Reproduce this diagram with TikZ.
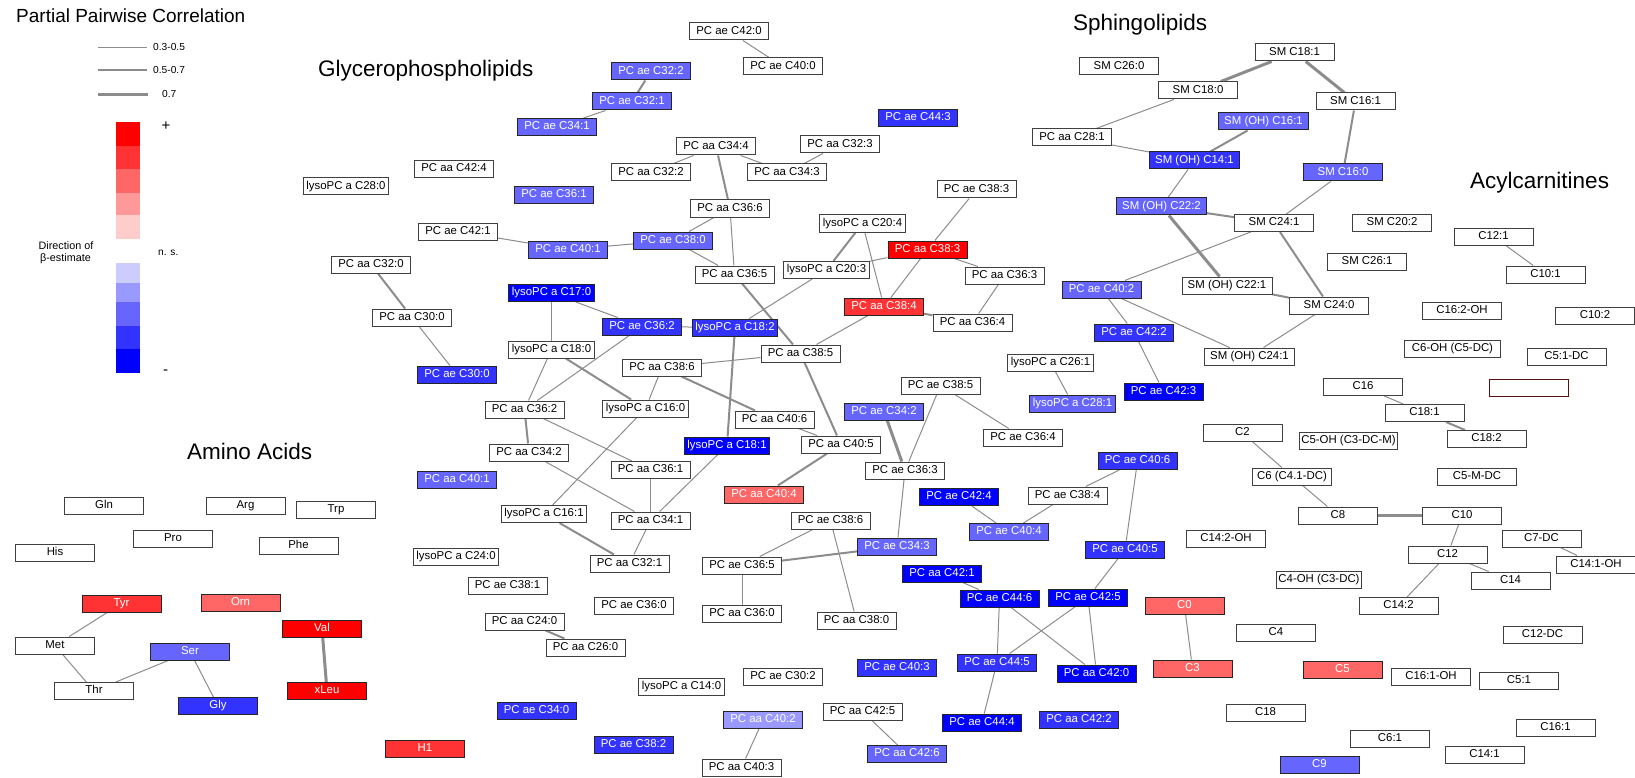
\documentclass[tikz,border=0pt]{standalone}
\usepackage{fontspec}
\setmainfont{Liberation Sans}
\usetikzlibrary{backgrounds}

\definecolor{BlueA}{HTML}{0000FF}
\definecolor{BlueB}{HTML}{3333FF}
\definecolor{BlueC}{HTML}{6666FF}
\definecolor{BlueD}{HTML}{9999FF}
\definecolor{BlueE}{HTML}{CCCCFF}
\definecolor{RedA}{HTML}{FF0000}
\definecolor{RedB}{HTML}{FF3333}
\definecolor{RedC}{HTML}{FF6666}
\definecolor{RedD}{HTML}{FF9999}
\definecolor{RedE}{HTML}{FFCCCC}
\definecolor{EdgeGray}{HTML}{8C8C8C}
\definecolor{DarkRed}{HTML}{5A1010}

\begin{document}
\begin{tikzpicture}[x=1pt, y=-1pt]
		\tikzstyle{Box}		= [rectangle, draw=black!75, line width=1pt, fill=white, text=black, minimum width=79pt, minimum height=17pt, inner xsep=3pt, inner ysep=0pt, text height=8.2pt, text depth=2.4pt, font=\fontsize{11.4}{12}\selectfont]
		\tikzstyle{Wide}	= [minimum width=90pt]
		\tikzstyle{Wider}	= [minimum width=96pt]
		\tikzstyle{B1}		= [fill=BlueA, text=white, draw=black!85]
		\tikzstyle{B2}		= [fill=BlueB, text=white, draw=black!85]
		\tikzstyle{B3}		= [fill=BlueC, text=white, draw=black!85]
		\tikzstyle{B4}		= [fill=BlueD, text=white, draw=black!85]
		\tikzstyle{R1}		= [fill=RedA, text=white, draw=black!85]
		\tikzstyle{R2}		= [fill=RedB, text=white, draw=black!85]
		\tikzstyle{R3}		= [fill=RedC, text=white, draw=black!85]
		\tikzstyle{Weak}	= [line width=1pt, draw=EdgeGray]
		\tikzstyle{Mid}		= [line width=2pt, draw=EdgeGray]
		\tikzstyle{Strong}	= [line width=3pt, draw=EdgeGray]
		\tikzstyle{Title}	= [anchor=base west, inner sep=0pt, font=\fontsize{22.5}{26}\selectfont]
		\tikzstyle{Small}	= [inner sep=0pt, font=\fontsize{10.2}{12}\selectfont]

		\useasboundingbox (0,0) rectangle (1635,778);

		% legend
		\node (t0) at (16,22.7) [Title, font=\fontsize{19}{22}\selectfont]{Partial Pairwise Correlation};
		\draw (98,47.3) -- (147,47.3) [Weak];
		\draw (98,70.3) -- (147,70.3) [Mid];
		\draw (98,94.3) -- (148,94.3) [Strong];
		\node (l1) at (153,47.3) [Small, anchor=west]{0.3-0.5};
		\node (l2) at (153,70.3) [Small, anchor=west]{0.5-0.7};
		\node (l3) at (162,94.3) [Small, anchor=west]{0.7};
		\fill[RedA] (116,122) rectangle (140,146);
		\fill[RedB] (116,146) rectangle (140,169);
		\fill[RedC] (116,169) rectangle (140,193);
		\fill[RedD] (116,193) rectangle (140,215);
		\fill[RedE] (116,215) rectangle (140,239);
		\fill[BlueE] (116,263) rectangle (140,283);
		\fill[BlueD] (116,283) rectangle (140,302);
		\fill[BlueC] (116,302) rectangle (140,326);
		\fill[BlueB] (116,326) rectangle (140,349);
		\fill[BlueA] (116,349) rectangle (140,373);
		\node (l4) at (166,126) [inner sep=0pt, font=\fontsize{15}{16}\selectfont]{+};
		\node (l5) at (158,253) [Small, anchor=west]{n. s.};
		\node (l6) at (165.5,372.5) [inner sep=0pt, font=\fontsize{15}{16}\selectfont]{-};
		\node (l7) at (66,245.3) [Small, font=\fontsize{10.8}{12}\selectfont]{Direction of};
		\node (l8) at (65.5,258.3) [Small, font=\fontsize{10.8}{12}\selectfont]{β-estimate};

		% group titles
		\node (t1) at (318,77) [Title]{Glycerophospholipids};
		\node (t2) at (1073,30.5) [Title]{Sphingolipids};
		\node (t3) at (1470,188.3) [Title]{Acylcarnitines};
		\node (t4) at (187,459.3) [Title]{Amino Acids};

		% amino acids
		\node (a1) at (104,505.5) [Box]{Gln};
		\node (a2) at (245.5,505.5) [Box]{Arg};
		\node (a3) at (336,509.5) [Box]{Trp};
		\node (a4) at (173,539) [Box]{Pro};
		\node (a5) at (55,552.5) [Box]{His};
		\node (a6) at (298.5,546) [Box]{Phe};
		\node (a7) at (121.5,603.5) [Box][R2]{Tyr};
		\node (a8) at (240.5,603) [Box][R3]{Orn};
		\node (a9) at (322,628.5) [Box][R1]{Val};
		\node (a10) at (55,645.5) [Box]{Met};
		\node (a11) at (190,651.5) [Box][B3]{Ser};
		\node (a12) at (94,691) [Box]{Thr};
		\node (a13) at (327,691) [Box][R1]{xLeu};
		\node (a14) at (218,706) [Box][B2]{Gly};
		\node (a15) at (425,749) [Box][R2]{H1};

		% glycerophospholipids
		\node (g1) at (729,31.5) [Box]{PC ae C42:0};
		\node (g2) at (783,66.5) [Box]{PC ae C40:0};
		\node (g3) at (651,71.5) [Box][B3]{PC ae C32:2};
		\node (g4) at (632,101.5) [Box][B3]{PC ae C32:1};
		\node (g5) at (557,127) [Box][B3]{PC ae C34:1};
		\node (g6) at (454,169) [Box]{PC aa C42:4};
		\node (g7) at (554,195) [Box][B3]{PC ae C36:1};
		\node (g8) at (458,231.5) [Box]{PC ae C42:1};
		\node (g9) at (568,249.5) [Box][B3]{PC ae C40:1};
		\node (g10) at (673,240.5) [Box][B3]{PC ae C38:0};
		\node (g11) at (716,146.5) [Box]{PC aa C34:4};
		\node (g12) at (651,172.5) [Box]{PC aa C32:2};
		\node (g13) at (787,172.5) [Box]{PC aa C34:3};
		\node (g14) at (840,144.5) [Box]{PC aa C32:3};
		\node (g15) at (730,208.5) [Box]{PC aa C36:6};
		\node (g16) at (918,118) [Box][B2]{PC ae C44:3};
		\node (g17) at (346,186.5) [Box]{lysoPC a C28:0};
		\node (g18) at (371,264.5) [Box]{PC aa C32:0};
		\node (g19) at (412,317.5) [Box]{PC aa C30:0};
		\node (g20) at (457,374.5) [Box][B2]{PC ae C30:0};
		\node (g21) at (976.5,189.5) [Box]{PC ae C38:3};
		\node (g22) at (862.5,223.5) [Box]{lysoPC a C20:4};
		\node (g23) at (927.5,249.5) [Box][R1]{PC aa C38:3};
		\node (g24) at (734.5,274.5) [Box]{PC aa C36:5};
		\node (g25) at (826.5,270) [Box]{lysoPC a C20:3};
		\node (g26) at (551.5,293) [Box][B1]{lysoPC a C17:0};
		\node (g27) at (642,326.5) [Box][B2]{PC ae C36:2};
		\node (g28) at (735,327.5) [Box][B2]{lysoPC a C18:2};
		\node (g29) at (551.5,349.5) [Box]{lysoPC a C18:0};
		\node (g30) at (800.5,353.5) [Box]{PC aa C38:5};
		\node (g31) at (662,367.5) [Box]{PC aa C38:6};
		\node (g32) at (524.5,409.5) [Box]{PC aa C36:2};
		\node (g33) at (645.5,408.5) [Box]{lysoPC a C16:0};
		\node (g34) at (774.5,419.5) [Box]{PC aa C40:6};
		\node (g35) at (727,445.5) [Box][B1]{lysoPC a C18:1};
		\node (g36) at (529,452.5) [Box]{PC aa C34:2};
		\node (g37) at (457,479.5) [Box][B3]{PC aa C40:1};
		\node (g38) at (650.5,470) [Box]{PC aa C36:1};
		\node (g39) at (764,494.5) [Box][R3]{PC aa C40:4};
		\node (g40) at (841,444.5) [Box]{PC aa C40:5};
		\node (g41) at (544,514) [Box]{lysoPC a C16:1};
		\node (g42) at (650.5,520.5) [Box]{PC aa C34:1};
		\node (g43) at (629.5,563.5) [Box]{PC aa C32:1};
		\node (g44) at (456,556.5) [Box]{lysoPC a C24:0};
		\node (g45) at (507.5,585.5) [Box]{PC ae C38:1};
		\node (g46) at (634,605.5) [Box]{PC ae C36:0};
		\node (g47) at (742,565.5) [Box]{PC ae C36:5};
		\node (g48) at (742,613.5) [Box]{PC aa C36:0};
		\node (g49) at (524.5,621.5) [Box]{PC aa C24:0};
		\node (g50) at (585.5,647.5) [Box]{PC aa C26:0};
		\node (g51) at (783,676.5) [Box]{PC ae C30:2};
		\node (g52) at (681.5,686.5) [Box]{lysoPC a C14:0};
		\node (g53) at (536.5,710.5) [Box][B2]{PC ae C34:0};
		\node (g54) at (633.5,744.5) [Box][B2]{PC ae C38:2};
		\node (g55) at (763,720) [Box][B4]{PC aa C40:2};
		\node (g56) at (741.5,767.5) [Box]{PC aa C40:3};
		\node (g57) at (830.5,520.5) [Box]{PC ae C38:6};
		\node (g58) at (897,546.5) [Box][B3]{PC ae C34:3};
		\node (g59) at (856.5,620.5) [Box]{PC aa C38:0};
		\node (g60) at (1004.5,275.5) [Box]{PC aa C36:3};
		\node (g61) at (884,306.5) [Box][R2]{PC aa C38:4};
		\node (g62) at (972.5,322.5) [Box]{PC aa C36:4};
		\node (g63) at (1101.5,289.5) [Box][B3]{PC ae C40:2};
		\node (g64) at (1134,332.5) [Box][B2]{PC ae C42:2};
		\node (g65) at (1163.5,391.5) [Box][B1]{PC ae C42:3};
		\node (g66) at (1050.5,362.5) [Box]{lysoPC a C26:1};
		\node (g67) at (1072.5,403.5) [Box][B3]{lysoPC a C28:1};
		\node (g68) at (940.5,385.5) [Box]{PC ae C38:5};
		\node (g69) at (884,411.5) [Box][B3]{PC ae C34:2};
		\node (g70) at (1023,437.5) [Box]{PC ae C36:4};
		\node (g71) at (905,470.5) [Box]{PC ae C36:3};
		\node (g72) at (1137.5,461) [Box][B2]{PC ae C40:6};
		\node (g73) at (1067.5,495.5) [Box]{PC ae C38:4};
		\node (g74) at (959,497) [Box][B1]{PC ae C42:4};
		\node (g75) at (1009,532) [Box][B3]{PC ae C40:4};
		\node (g76) at (1125,549.5) [Box][B2]{PC ae C40:5};
		\node (g77) at (942,573.5) [Box][B1]{PC aa C42:1};
		\node (g78) at (999.5,598.5) [Box][B1]{PC ae C44:6};
		\node (g79) at (1088,597.5) [Box][B1]{PC ae C42:5};
		\node (g80) at (997,662.5) [Box][B2]{PC ae C44:5};
		\node (g81) at (1096.5,673.5) [Box][B1]{PC aa C42:0};
		\node (g82) at (897,667.5) [Box][B2]{PC ae C40:3};
		\node (g83) at (982,722.5) [Box][B1]{PC ae C44:4};
		\node (g84) at (1079,720) [Box][B2]{PC aa C42:2};
		\node (g85) at (862.5,711.5) [Box]{PC aa C42:5};
		\node (g86) at (907,754) [Box][B3]{PC aa C42:6};
		\node (g87) at (1072,137.5) [Box]{PC aa C28:1};

		% sphingolipids
		\node (s1) at (1119,66.5) [Box]{SM C26:0};
		\node (s2) at (1198,90.5) [Box]{SM C18:0};
		\node (s3) at (1294.5,52.5) [Box]{SM C18:1};
		\node (s4) at (1355.5,101.5) [Box]{SM C16:1};
		\node (s5) at (1263.5,121.5) [Box][B3][Wide]{SM (OH) C16:1};
		\node (s6) at (1194.5,160.5) [Box][B2][Wide]{SM (OH) C14:1};
		\node (s7) at (1343,172.5) [Box][B3]{SM C16:0};
		\node (s8) at (1161.5,206.5) [Box][B3][Wide]{SM (OH) C22:2};
		\node (s9) at (1274,223) [Box]{SM C24:1};
		\node (s10) at (1392,223) [Box]{SM C20:2};
		\node (s11) at (1367,262) [Box]{SM C26:1};
		\node (s12) at (1227,285.5) [Box][Wide]{SM (OH) C22:1};
		\node (s13) at (1329,305.5) [Box]{SM C24:0};
		\node (s14) at (1249.5,356.5) [Box][Wide]{SM (OH) C24:1};

		% acylcarnitines
		\node (c1) at (1493.5,236.5) [Box]{C12:1};
		\node (c2) at (1545.5,274.5) [Box]{C10:1};
		\node (c3) at (1462,311) [Box]{C16:2-OH};
		\node (c4) at (1595,315.5) [Box]{C10:2};
		\node (c5) at (1452.5,349) [Box][Wider]{C6-OH (C5-DC)};
		\node (c6) at (1566.5,356.5) [Box]{C5:1-DC};
		\node (c7) at (1363,387) [Box]{C16};
		\node (c8) at (1529,388) [Box, draw=DarkRed]{};
		\node (c9) at (1424.5,413) [Box]{C18:1};
		\node (c10) at (1486.5,439) [Box]{C18:2};
		\node (c11) at (1242.5,433) [Box]{C2};
		\node (c12) at (1348.5,440.5) [Box, inner xsep=2pt]{C5-OH (C3-DC-M)};
		\node (c13) at (1292,476.5) [Box]{C6 (C4.1-DC)};
		\node (c14) at (1477,476.5) [Box]{C5-M-DC};
		\node (c15) at (1338,515.5) [Box]{C8};
		\node (c16) at (1462,515.5) [Box]{C10};
		\node (c17) at (1541.5,538.5) [Box]{C7-DC};
		\node (c18) at (1596,564.5) [Box]{C14:1-OH};
		\node (c19) at (1447.5,554.5) [Box]{C12};
		\node (c20) at (1510.5,580.5) [Box]{C14};
		\node (c21) at (1398.5,606) [Box]{C14:2};
		\node (c22) at (1319,580) [Box, inner xsep=2pt]{C4-OH (C3-DC)};
		\node (c23) at (1226,538.5) [Box]{C14:2-OH};
		\node (c24) at (1184.5,606) [Box][R3]{C0};
		\node (c25) at (1192.5,668.5) [Box][R3]{C3};
		\node (c26) at (1276,632.5) [Box]{C4};
		\node (c27) at (1342.5,669.5) [Box][R3]{C5};
		\node (c28) at (1431,676.5) [Box]{C16:1-OH};
		\node (c29) at (1519,681) [Box]{C5:1};
		\node (c30) at (1542.5,634.5) [Box]{C12-DC};
		\node (c31) at (1265.5,712.5) [Box]{C18};
		\node (c32) at (1390,738.5) [Box]{C6:1};
		\node (c33) at (1555.5,727.5) [Box]{C16:1};
		\node (c34) at (1484.5,754.5) [Box]{C14:1};
		\node (c35) at (1319.5,764.5) [Box][B3]{C9};

		\begin{scope}[on background layer]
		\draw [-] (a7) to (a10) [Weak];
		\draw [-] (a10) to (a12) [Weak];
		\draw [-] (a11) to (a12) [Weak];
		\draw [-] (a11) to (a14) [Weak];
		\draw [-] (a9) to (a13) [Strong];

		\draw [-] (g1) to (g2) [Weak];
		\draw [-] (g3) to (g4) [Mid];
		\draw [-] (g4) to (g5) [Weak];
		\draw [-] (g11) to (g12) [Weak];
		\draw [-] (g11) to (g13) [Weak];
		\draw [-] (g13) to (g14) [Weak];
		\draw [-] (g11) to (g15) [Mid];
		\draw [-] (g8) to (g9) [Weak];
		\draw [-] (g9) to (g10) [Weak];
		\draw [-] (g10) to (g15) [Weak];
		\draw [-] (g10) to (g24) [Weak];
		\draw [-] (g15) to (g24) [Weak];
		\draw [-] (g21) to (g23) [Weak];
		\draw [-] (g22) to (g25) [Mid];
		\draw [-] (g22) to (g61) [Weak];
		\draw [-] (g25) to (g23) [Weak];
		\draw [-] (g25) to (g28) [Weak];
		\draw [-] (g23) to (g61) [Weak];
		\draw [-] (g23) to (g60) [Weak];
		\draw [-] (g60) to (g62) [Weak];
		\draw [-] (g61) to (g62) [Mid];
		\draw [-] (g61) to (g30) [Weak];
		\draw [-] (g18) to (g19) [Mid];
		\draw [-] (g19) to (g20) [Weak];
		\draw [-] (g26) to (g27) [Weak];
		\draw [-] (g26) to (g29) [Weak];
		\draw [-] (g27) to (g28) [Weak];
		\draw [-] (g27) to (g32) [Weak];
		\draw [-] (g29) to (g32) [Weak];
		\draw [-] (g29) to (g33) [Mid];
		\draw [-] (g24) to (g30) [Mid];
		\draw [-] (g31) to (g30) [Weak];
		\draw [-] (g31) to (g33) [Weak];
		\draw [-] (g31) to (g34) [Mid];
		\draw [-] (g28) to (g35) [Mid];
		\draw [-] (g32) to (g36) [Mid];
		\draw [-] (g32) to (g38) [Weak];
		\draw [-] (g36) to (g42) [Weak];
		\draw [-] (g33) to (g41) [Weak];
		\draw [-] (g38) to (g42) [Weak];
		\draw [-] (g35) to (g42) [Weak];
		\draw [-] (g34) to (g40) [Weak];
		\draw [-] (g30) to (g40) [Mid];
		\draw [-] (g40) to (g39) [Mid];
		\draw [-] (g41) to (g43) [Mid];
		\draw [-] (g42) to (g43) [Weak];
		\draw [-] (g47) to (g48) [Weak];
		\draw [-] (g47) to (g57) [Weak];
		\draw [-] (g47) to (g58) [Mid];
		\draw [-] (g57) to (g59) [Weak];
		\draw [-] (g71) to (g58) [Weak];
		\draw [-] (g49) to (g50) [Mid];
		\draw [-] (g55) to (g56) [Weak];
		\draw [-] (g63) to (g64) [Weak];
		\draw [-] (g64) to (g65) [Weak];
		\draw [-] (g66) to (g67) [Weak];
		\draw [-] (g68) to (g70) [Weak];
		\draw [-] (g68) to (g71) [Weak];
		\draw [-] (g69) to (g71) [Strong];
		\draw [-] (g72) to (g73) [Weak];
		\draw [-] (g74) to (g75) [Weak];
		\draw [-] (g73) to (g75) [Weak];
		\draw [-] (g72) to (g76) [Weak];
		\draw [-] (g76) to (g79) [Weak];
		\draw [-] (g77) to (g78) [Weak];
		\draw [-] (g78) to (g80) [Weak];
		\draw [-] (g78) to (g81) [Weak];
		\draw [-] (g79) to (g80) [Weak];
		\draw [-] (g79) to (g81) [Weak];
		\draw [-] (g80) to (g83) [Weak];
		\draw [-] (g85) to (g86) [Weak];

		\draw [-] (g87) to (s2) [Weak];
		\draw [-] (g87) to (s6) [Weak];
		\draw [-] (s5) to (s6) [Mid];
		\draw [-] (s6) to (s8) [Weak];
		\draw [-] (s3) to (s2) [Strong];
		\draw [-] (s3) to (s4) [Strong];
		\draw [-] (s4) to (s7) [Mid];
		\draw [-] (s7) to (s9) [Weak];
		\draw [-] (s8) to (s9) [Mid];
		\draw [-] (s8) to (s12) [Strong];
		\draw [-] (s9) to (s13) [Mid];
		\draw [-] (s12) to (s13) [Mid];
		\draw [-] (s13) to (s14) [Weak];
		\draw [-] (g63) to (s9) [Weak];
		\draw [-] (g63) to (s14) [Weak];

		\draw [-] (c1) to (c2) [Weak];
		\draw [-] (c7) to (c9) [Weak];
		\draw [-] (c9) to (c10) [Mid];
		\draw [-] (c11) to (c13) [Weak];
		\draw [-] (c13) to (c15) [Weak];
		\draw [-] (c15) to (c16) [Strong];
		\draw [-] (c16) to (c19) [Weak];
		\draw [-] (c19) to (c20) [Weak];
		\draw [-] (c19) to (c21) [Weak];
		\draw [-] (c17) to (c18) [Weak];
		\draw [-] (c24) to (c25) [Weak];
		\end{scope}
	\end{tikzpicture}
\end{document}
